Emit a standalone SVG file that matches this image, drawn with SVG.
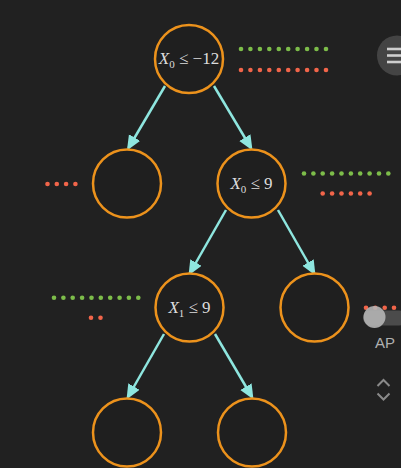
<svg xmlns="http://www.w3.org/2000/svg" width="401" height="468" viewBox="0 0 401 468">
<defs>
<style>
.node{fill:#1f1f1f;stroke:#ec921c;stroke-width:2.5}
.edge{stroke:#8ee6df;stroke-width:2.5;fill:none;marker-end:url(#ah)}
.lbl{font-family:"Liberation Serif","DejaVu Serif",serif;font-size:17px;fill:#dcdcdc}
.g{fill:#7dbd4a}
.r{fill:#f2654a}
</style>
<marker id="ah" markerUnits="userSpaceOnUse" markerWidth="16" markerHeight="14" refX="12" refY="6.5" orient="auto">
<path d="M0,0 L15,6.5 L0,13 z" fill="#8ee6df"/>
</marker>
</defs>
<rect width="401" height="468" fill="#212121"/>
<g id="connectors">
<line class="edge" x1="165" y1="86" x2="128.5" y2="148"/>
<line class="edge" x1="214" y1="86" x2="251" y2="148"/>
<line class="edge" x1="226" y1="210" x2="190" y2="273"/>
<line class="edge" x1="278" y1="210" x2="314" y2="273"/>
<line class="edge" x1="164" y1="334" x2="128" y2="397"/>
<line class="edge" x1="215" y1="334" x2="252" y2="397"/>
</g>
<g id="n-root">
<circle class="node" cx="189" cy="59" r="34"/>
<text class="lbl" x="189" y="64" text-anchor="middle"><tspan font-style="italic">X</tspan><tspan font-size="11" dy="4">0</tspan><tspan dy="-4"> ≤ −12</tspan></text>
<g class="g"><circle cx="241" cy="49" r="2.3"/><circle cx="250.4" cy="49" r="2.3"/><circle cx="259.9" cy="49" r="2.3"/><circle cx="269.3" cy="49" r="2.3"/><circle cx="278.8" cy="49" r="2.3"/><circle cx="288.2" cy="49" r="2.3"/><circle cx="297.6" cy="49" r="2.3"/><circle cx="307.1" cy="49" r="2.3"/><circle cx="316.5" cy="49" r="2.3"/><circle cx="326" cy="49" r="2.3"/></g>
<g class="r"><circle cx="241" cy="70" r="2.3"/><circle cx="250.4" cy="70" r="2.3"/><circle cx="259.9" cy="70" r="2.3"/><circle cx="269.3" cy="70" r="2.3"/><circle cx="278.8" cy="70" r="2.3"/><circle cx="288.2" cy="70" r="2.3"/><circle cx="297.6" cy="70" r="2.3"/><circle cx="307.1" cy="70" r="2.3"/><circle cx="316.5" cy="70" r="2.3"/><circle cx="326" cy="70" r="2.3"/></g>
</g>
<g id="n-left">
<circle class="node" cx="127" cy="183.5" r="34"/>
<g class="r"><circle cx="47.5" cy="184" r="2.3"/><circle cx="56.8" cy="184" r="2.3"/><circle cx="66.1" cy="184" r="2.3"/><circle cx="75.4" cy="184" r="2.3"/></g>
</g>
<g id="n-right">
<circle class="node" cx="251.5" cy="183.5" r="34"/>
<text class="lbl" x="251.5" y="189" text-anchor="middle"><tspan font-style="italic">X</tspan><tspan font-size="11" dy="4">0</tspan><tspan dy="-4"> ≤ 9</tspan></text>
<g class="g"><circle cx="304" cy="173.5" r="2.3"/><circle cx="313.4" cy="173.5" r="2.3"/><circle cx="322.7" cy="173.5" r="2.3"/><circle cx="332.1" cy="173.5" r="2.3"/><circle cx="341.5" cy="173.5" r="2.3"/><circle cx="350.9" cy="173.5" r="2.3"/><circle cx="360.2" cy="173.5" r="2.3"/><circle cx="369.6" cy="173.5" r="2.3"/><circle cx="379" cy="173.5" r="2.3"/><circle cx="388.3" cy="173.5" r="2.3"/></g>
<g class="r"><circle cx="322.7" cy="193.5" r="2.3"/><circle cx="332.1" cy="193.5" r="2.3"/><circle cx="341.5" cy="193.5" r="2.3"/><circle cx="350.9" cy="193.5" r="2.3"/><circle cx="360.2" cy="193.5" r="2.3"/><circle cx="369.6" cy="193.5" r="2.3"/></g>
</g>
<g id="n-rl">
<circle class="node" cx="189.5" cy="307.5" r="34"/>
<text class="lbl" x="189.5" y="313" text-anchor="middle"><tspan font-style="italic">X</tspan><tspan font-size="11" dy="4">1</tspan><tspan dy="-4"> ≤ 9</tspan></text>
<g class="g"><circle cx="54" cy="297.7" r="2.3"/><circle cx="63.4" cy="297.7" r="2.3"/><circle cx="72.7" cy="297.7" r="2.3"/><circle cx="82.1" cy="297.7" r="2.3"/><circle cx="91.5" cy="297.7" r="2.3"/><circle cx="100.8" cy="297.7" r="2.3"/><circle cx="110.2" cy="297.7" r="2.3"/><circle cx="119.6" cy="297.7" r="2.3"/><circle cx="128.9" cy="297.7" r="2.3"/><circle cx="138.3" cy="297.7" r="2.3"/></g>
<g class="r"><circle cx="91" cy="317.7" r="2.3"/><circle cx="100.5" cy="317.7" r="2.3"/></g>
</g>
<g id="n-rr">
<circle class="node" cx="314.5" cy="307.5" r="34"/>
<g class="r"><circle cx="366" cy="307.7" r="2.3"/><circle cx="375.3" cy="307.7" r="2.3"/><circle cx="384.7" cy="307.7" r="2.3"/><circle cx="394" cy="307.7" r="2.3"/></g>
</g>
<g id="n-rll">
<circle class="node" cx="127" cy="432.5" r="34"/>
</g>
<g id="n-rlr">
<circle class="node" cx="252" cy="432.5" r="34"/>
</g>
<g id="ui">
<circle cx="397" cy="55.5" r="20" fill="#444444"/>
<g stroke="#cfcfcf" stroke-width="2.6"><line x1="387" y1="49" x2="401" y2="49"/><line x1="387" y1="55.5" x2="401" y2="55.5"/><line x1="387" y1="62" x2="401" y2="62"/></g>
<rect x="363" y="310.5" width="44" height="15" rx="7.5" fill="#505050" opacity="0.9"/>
<circle cx="374.5" cy="317" r="11" fill="#b5b5b5" opacity="0.9"/>
<text x="375" y="348" font-family="'Liberation Sans',Arial,sans-serif" font-size="15" fill="#b0b0b0">AP</text>
<g stroke="#8a8a8a" stroke-width="2" fill="none"><polyline points="377.5,386 383.5,380 389.5,386"/><polyline points="377.5,393.5 383.5,399.5 389.5,393.5"/></g>
</g>
</svg>
